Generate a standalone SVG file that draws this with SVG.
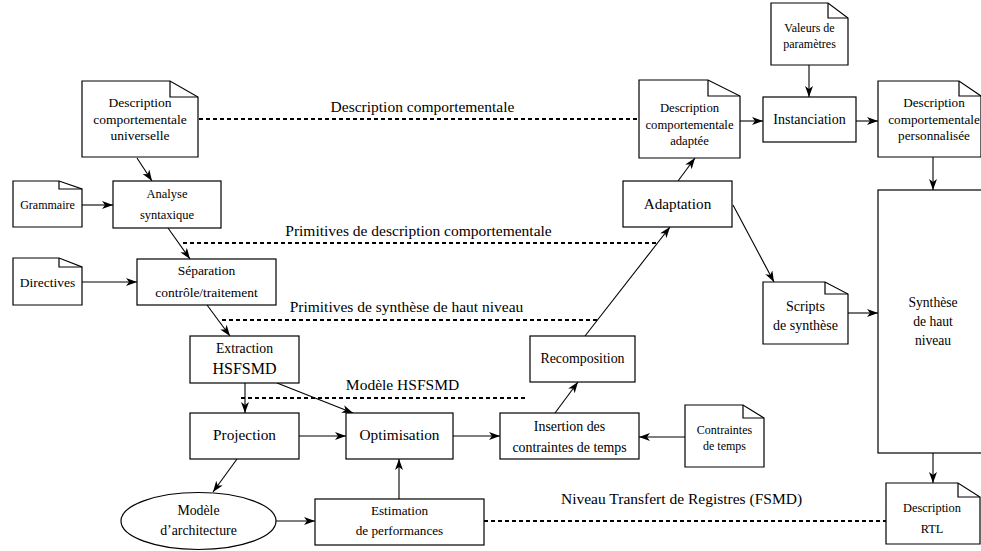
<svg xmlns="http://www.w3.org/2000/svg" width="981" height="551" viewBox="0 0 981 551">
<style>
.box{fill:#fff;stroke:#000;stroke-width:1.2}
.fold{fill:none;stroke:#000;stroke-width:1.2}
.t{font-family:"Liberation Serif","Times New Roman",serif;fill:#000;text-anchor:middle}
.lbl{font-size:15.5px}
.dot{fill:none;stroke:#000;stroke-width:2;stroke-dasharray:4 3}
.c{fill:none;stroke:#000;stroke-width:1.1;marker-end:url(#ah)}
</style>
<defs>
<marker id="ah" markerUnits="userSpaceOnUse" markerWidth="12" markerHeight="8" refX="11" refY="4" orient="auto">
<path d="M0,0 L11,4 L0,8 L3,4 Z" fill="#000"/>
</marker>
</defs>
<rect width="981" height="551" fill="#fff"/>

<g id="connectors">
<line class="dot" x1="199" y1="119" x2="639" y2="119"/>
<line class="dot" x1="183" y1="243" x2="658" y2="243"/>
<line class="dot" x1="222" y1="320" x2="597" y2="320"/>
<line class="dot" x1="241" y1="398" x2="525" y2="398"/>
<line class="dot" x1="484" y1="521" x2="887" y2="521"/>
<line class="c" x1="137" y1="158" x2="152" y2="181"/>
<line class="c" x1="82" y1="205" x2="113" y2="205"/>
<line class="c" x1="168" y1="228" x2="190" y2="259"/>
<line class="c" x1="82" y1="282" x2="137" y2="282"/>
<line class="c" x1="207" y1="305" x2="230" y2="336"/>
<line class="c" x1="245" y1="383" x2="245" y2="413"/>
<line class="c" x1="277" y1="383" x2="353" y2="413"/>
<line class="c" x1="299" y1="436" x2="346" y2="436"/>
<line class="c" x1="237" y1="459" x2="213" y2="492"/>
<line class="c" x1="276" y1="521" x2="315" y2="521"/>
<line class="c" x1="399" y1="499" x2="399" y2="459"/>
<line class="c" x1="453" y1="436" x2="500" y2="436"/>
<line class="c" x1="685" y1="437" x2="639" y2="437"/>
<line class="c" x1="555" y1="413" x2="578" y2="382"/>
<line class="c" x1="585" y1="336" x2="670" y2="227"/>
<line class="c" x1="678" y1="181" x2="695" y2="158"/>
<line class="c" x1="740" y1="121" x2="763" y2="121"/>
<line class="c" x1="809" y1="65" x2="809" y2="97"/>
<line class="c" x1="856" y1="121" x2="878" y2="121"/>
<line class="c" x1="933" y1="157" x2="933" y2="190"/>
<line class="c" x1="733" y1="205" x2="774" y2="282"/>
<line class="c" x1="848" y1="313" x2="878" y2="313"/>
<line class="c" x1="933" y1="453" x2="933" y2="483"/>
</g>

<g id="labels">
<text class="t lbl" x="422.5" y="112">Description comportementale</text>
<text class="t lbl" x="418.5" y="236">Primitives de description comportementale</text>
<text class="t lbl" x="406.5" y="312">Primitives de synthèse de haut niveau</text>
<text class="t lbl" x="402.5" y="390">Modèle HSFSMD</text>
<text class="t lbl" x="681.5" y="504">Niveau Transfert de Registres (FSMD)</text>
</g>

<g id="n-universelle">
<path class="box" d="M82,81 H170 L198,97 V157 H82 Z"/>
<path class="fold" d="M170,81 V97 H198"/>
<text class="t" font-size="13.5" x="140" y="107">Description</text>
<text class="t" font-size="13.5" x="140" y="124">comportementale</text>
<text class="t" font-size="13.5" x="140" y="140">universelle</text>
</g>

<g id="n-grammaire">
<path class="box" d="M13,181 H59 L82,189 V227 H13 Z"/>
<path class="fold" d="M59,181 V189 H82"/>
<text class="t" font-size="12" x="47.5" y="209">Grammaire</text>
</g>

<g id="n-analyse">
<rect class="box" x="113" y="181" width="108" height="47"/>
<text class="t" font-size="12.5" x="167" y="198">Analyse</text>
<text class="t" font-size="12.5" x="167" y="219">syntaxique</text>
</g>

<g id="n-directives">
<path class="box" d="M13,258 H59 L82,267 V305 H13 Z"/>
<path class="fold" d="M59,258 V267 H82"/>
<text class="t" font-size="13.5" x="47.5" y="287">Directives</text>
</g>

<g id="n-separation">
<rect class="box" x="137" y="259" width="139" height="46"/>
<text class="t" font-size="13.5" x="206.5" y="275">Séparation</text>
<text class="t" font-size="13.5" x="206.5" y="297">contrôle/traitement</text>
</g>

<g id="n-extraction">
<rect class="box" x="190" y="336" width="109" height="47"/>
<text class="t" font-size="13.7" x="244.5" y="353">Extraction</text>
<text class="t" font-size="16" x="244.5" y="374">HSFSMD</text>
</g>

<g id="n-projection">
<rect class="box" x="190" y="413" width="109" height="46"/>
<text class="t" font-size="15.3" x="244.5" y="440">Projection</text>
</g>

<g id="n-modele">
<ellipse class="box" cx="198.5" cy="521" rx="77.5" ry="28.5"/>
<text class="t" font-size="13.8" x="198.5" y="515">Modèle</text>
<text class="t" font-size="13.8" x="198.5" y="535">d’architecture</text>
</g>

<g id="n-estimation">
<rect class="box" x="315" y="499" width="169" height="46"/>
<text class="t" font-size="13.2" x="399.5" y="515">Estimation</text>
<text class="t" font-size="13.2" x="399.5" y="535">de performances</text>
</g>

<g id="n-optimisation">
<rect class="box" x="346" y="413" width="107" height="46"/>
<text class="t" font-size="15.3" x="399.5" y="440">Optimisation</text>
</g>

<g id="n-insertion">
<rect class="box" x="500" y="413" width="139" height="46"/>
<text class="t" font-size="13.9" x="569.5" y="431">Insertion des</text>
<text class="t" font-size="13.9" x="569.5" y="452">contraintes de temps</text>
</g>

<g id="n-contraintes">
<path class="box" d="M685,405 H743 L764,418 V467 H685 Z"/>
<path class="fold" d="M743,405 V418 H764"/>
<text class="t" font-size="12" x="724.5" y="434">Contraintes</text>
<text class="t" font-size="12" x="724.5" y="450">de temps</text>
</g>

<g id="n-recomposition">
<rect class="box" x="530" y="336" width="105" height="46"/>
<text class="t" font-size="13.9" x="582.5" y="363">Recomposition</text>
</g>

<g id="n-adaptation">
<rect class="box" x="623" y="181" width="109" height="46"/>
<text class="t" font-size="15.2" x="677.5" y="209">Adaptation</text>
</g>

<g id="n-adaptee">
<path class="box" d="M639,80 H708 L740,96 V158 H639 Z"/>
<path class="fold" d="M708,80 V96 H740"/>
<text class="t" font-size="12.7" x="689.5" y="112">Description</text>
<text class="t" font-size="12.7" x="689.5" y="129">comportementale</text>
<text class="t" font-size="12.7" x="689.5" y="145">adaptée</text>
</g>

<g id="n-valeurs">
<path class="box" d="M771,3 H828 L848,18 V65 H771 Z"/>
<path class="fold" d="M828,3 V18 H848"/>
<text class="t" font-size="12" x="809.5" y="32">Valeurs de</text>
<text class="t" font-size="12" x="809.5" y="48">paramètres</text>
</g>

<g id="n-instanciation">
<rect class="box" x="763" y="97" width="93" height="45"/>
<text class="t" font-size="14" x="809.5" y="124">Instanciation</text>
</g>

<g id="n-personnalisee">
<path class="box" d="M878,81 H959 L981,96 V157 H878 Z"/>
<path class="fold" d="M959,81 V96 H981"/>
<text class="t" font-size="13.2" x="934" y="107">Description</text>
<text class="t" font-size="13.2" x="934" y="124">comportementale</text>
<text class="t" font-size="13.2" x="934" y="140">personnalisée</text>
</g>

<g id="n-scripts">
<path class="box" d="M763,282 H825 L848,294 V344 H763 Z"/>
<path class="fold" d="M825,282 V294 H848"/>
<text class="t" font-size="14" x="805.5" y="311">Scripts</text>
<text class="t" font-size="14" x="805.5" y="330">de synthèse</text>
</g>

<g id="n-synthese">
<rect class="box" x="878" y="190" width="120" height="263"/>
<text class="t" font-size="13.6" x="933" y="307">Synthèse</text>
<text class="t" font-size="13.6" x="933" y="326">de haut</text>
<text class="t" font-size="13.6" x="933" y="345">niveau</text>
</g>

<g id="n-rtl">
<path class="box" d="M886,483 H958 L980,497 V544 H886 Z"/>
<path class="fold" d="M958,483 V497 H980"/>
<text class="t" font-size="12.4" x="932" y="512">Description</text>
<text class="t" font-size="12.4" x="932" y="533">RTL</text>
</g>
</svg>
